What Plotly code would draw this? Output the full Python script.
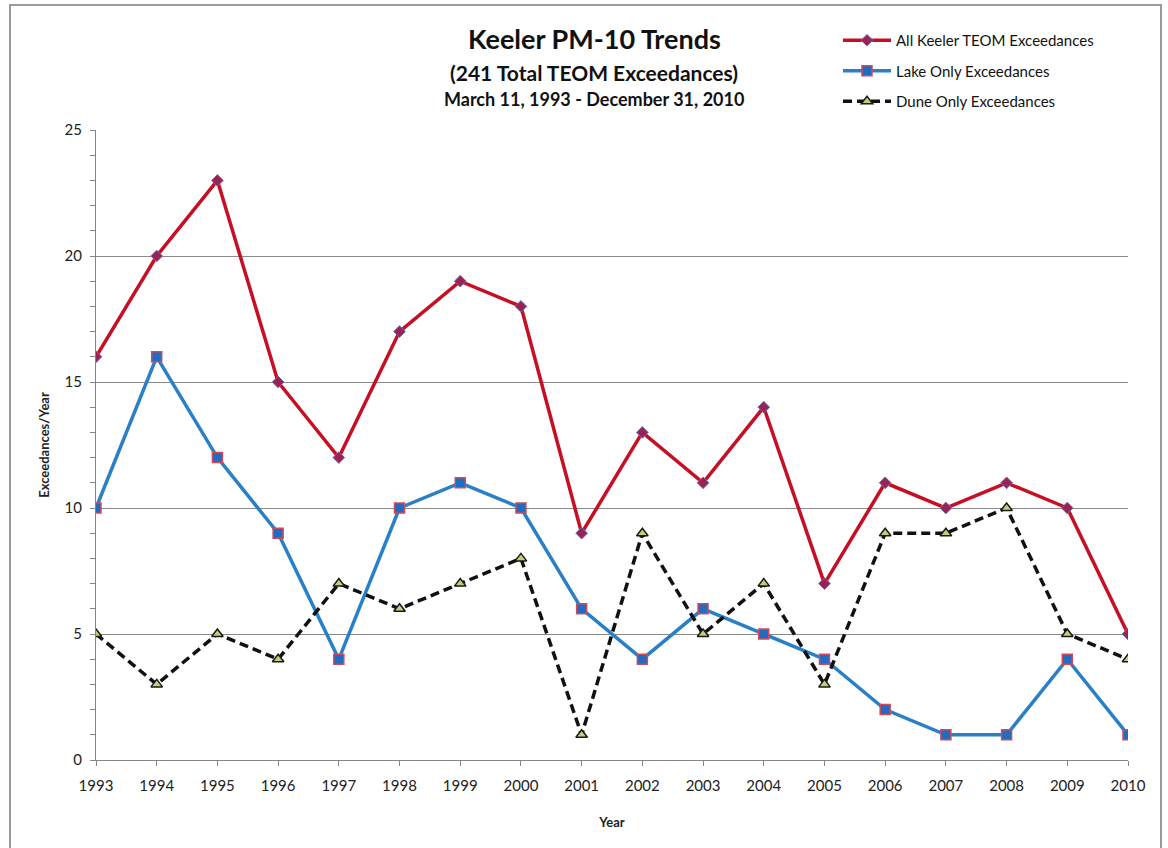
import plotly.graph_objects as go

years = list(range(1993, 2011))
all_keeler = [16, 20, 23, 15, 12, 17, 19, 18, 9, 13, 11, 14, 7, 11, 10, 11, 10, 5]
lake_only = [10, 16, 12, 9, 4, 10, 11, 10, 6, 4, 6, 5, 4, 2, 1, 1, 4, 1]
dune_only = [5, 3, 5, 4, 7, 6, 7, 8, 1, 9, 5, 7, 3, 9, 9, 10, 5, 4]

series_names = ["All Keeler TEOM Exceedances", "Lake Only Exceedances", "Dune Only Exceedances"]
title_lines = ["Keeler PM-10 Trends", "(241 Total TEOM Exceedances)", "March 11, 1993 - December 31, 2010"]

FONT = "Lato"
W, H = 1168, 848
L, R, T, B = 96, 40, 130, 88
pw, ph = W - L - R, H - T - B

def px_x(x):
    return (x - L) / pw

def px_y(y):
    return (H - B - y) / ph

fig = go.Figure()
fig.add_trace(go.Scatter(
    x=years, y=all_keeler, name=series_names[0], mode="lines+markers",
    line=dict(color="#c60f24", width=3.5),
    marker=dict(symbol="diamond", size=9, color="#9a2356", line=dict(color="#7070a8", width=1)),
    legendgroup="a"))
fig.add_trace(go.Scatter(
    x=years, y=lake_only, name=series_names[1], mode="lines+markers",
    line=dict(color="#2a80c6", width=3.5),
    marker=dict(symbol="square", size=10, color="#1f6cc0", line=dict(color="#d04a5a", width=1.5)),
    legendgroup="b"))
fig.add_trace(go.Scatter(
    x=years, y=dune_only, name=series_names[2], mode="lines+markers",
    line=dict(color="#111111", width=3.5, dash="9px,5px"),
    marker=dict(symbol="triangle-up", size=10, color="#c3cf78", line=dict(color="#1a1a1a", width=1.5)),
    legendgroup="c"))

sizes = [27, 21, 18]
ys = [38, 72, 99]
for txt, s, yy in zip(title_lines, sizes, ys):
    fig.add_annotation(text="<b>%s</b>" % txt, xref="paper", yref="paper",
                       x=px_x(594), y=px_y(yy), xanchor="center", yanchor="middle",
                       showarrow=False, font=dict(family=FONT, size=s, color="#111111"))

fig.add_shape(type="rect", xref="paper", yref="paper",
              x0=px_x(10), x1=px_x(1161), y0=px_y(5), y1=px_y(870),
              line=dict(color="#9a9a9a", width=2), fillcolor="rgba(0,0,0,0)", layer="above")

fig.update_layout(
    width=W, height=H,
    margin=dict(l=L, r=R, t=T, b=B),
    paper_bgcolor="white", plot_bgcolor="white",
    font=dict(family=FONT, size=14, color="#222222"),
    showlegend=True,
    legend=dict(x=px_x(838), y=px_y(24), xanchor="left", yanchor="top",
                font=dict(family=FONT, size=15, color="#111111"),
                tracegroupgap=8, bgcolor="rgba(0,0,0,0)", itemwidth=48),
    xaxis=dict(range=[1993, 2010], tickmode="array", tickvals=years,
               ticktext=[str(y) for y in years],
               showgrid=False, zeroline=False, showline=True, linecolor="#868686", linewidth=1,
               ticks="outside", ticklen=5, tickcolor="#868686", ticklabelstandoff=7,
               title=dict(text="<b>Year</b>", font=dict(family=FONT, size=13), standoff=24),
               tickfont=dict(family=FONT, size=15)),
    yaxis=dict(range=[0, 25], tick0=0, dtick=5,
               showgrid=True, gridcolor="#8a8a8a", gridwidth=1, zeroline=False,
               showline=True, linecolor="#868686", linewidth=1,
               ticks="outside", ticklen=5, tickcolor="#868686", ticklabelstandoff=5,
               minor=dict(dtick=1, ticks="outside", ticklen=5, tickcolor="#868686", showgrid=False),
               title=dict(text="<b>Exceedances/Year</b>", font=dict(family=FONT, size=13), standoff=12),
               tickfont=dict(family=FONT, size=15)),
)

fig.write_html("out.html", config={"displayModeBar": False},
               post_script="document.body.style.margin='0';")
